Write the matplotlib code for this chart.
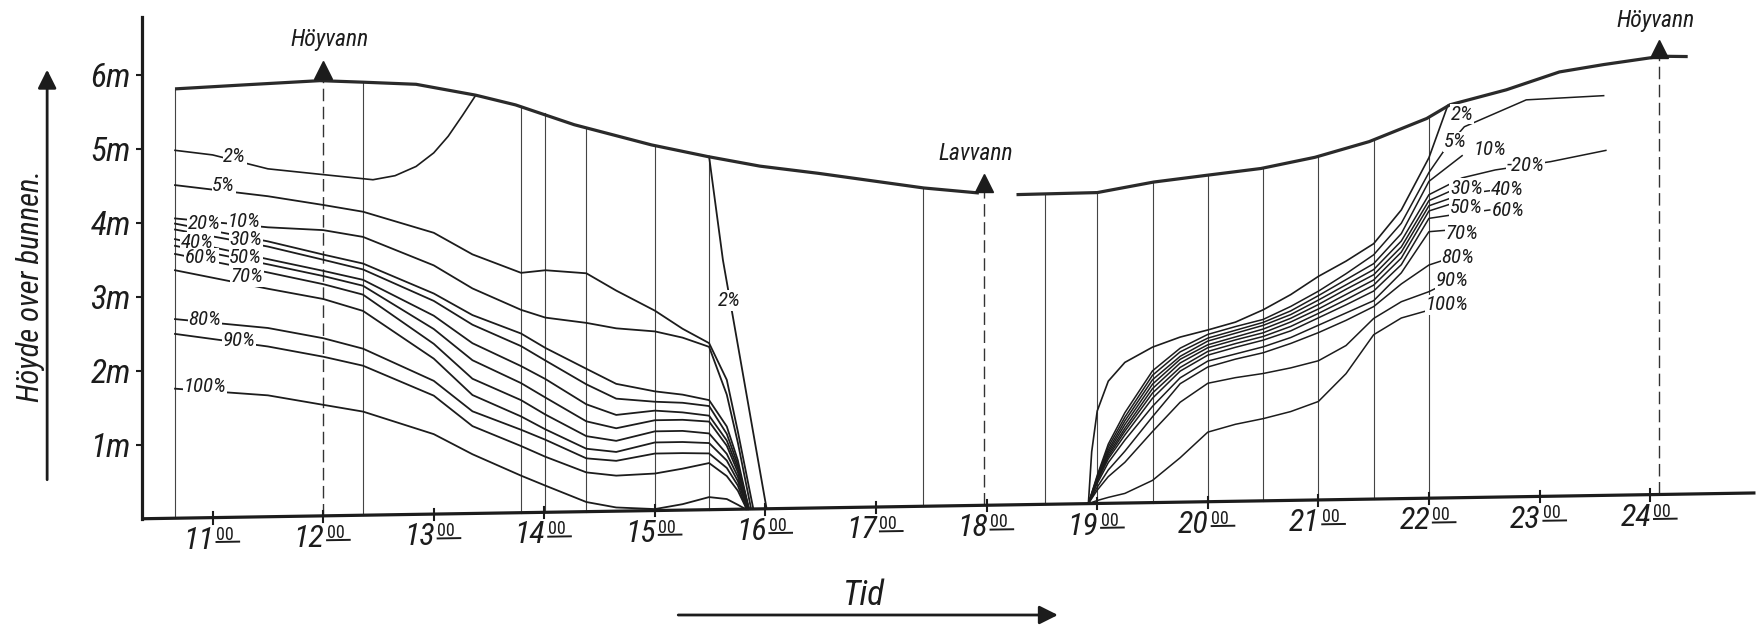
import matplotlib
matplotlib.use('Agg')
import matplotlib.pyplot as plt
import matplotlib.font_manager as fm
from matplotlib.transforms import Affine2D

# water surface (time in hours, height above bottom in m)
surf_left_t = [10.66, 11.3, 11.97, 12.36, 12.84, 13.38, 13.74, 14.27, 14.97, 15.48, 15.95, 16.48, 17.43, 17.93]
surf_left_m = [5.80, 5.84, 5.88, 5.85, 5.81, 5.65, 5.51, 5.23, 4.94, 4.77, 4.63, 4.52, 4.30, 4.22]
surf_right_t = [18.27, 19.0, 19.51, 19.99, 20.48, 20.97, 21.46, 21.98, 22.19, 22.70, 23.18, 23.58, 24.10, 24.34]
surf_right_m = [4.19, 4.20, 4.33, 4.41, 4.49, 4.63, 4.83, 5.13, 5.31, 5.50, 5.73, 5.82, 5.92, 5.91]

# sampling stations (thin verticals) and their top at the surface
station_t = [10.66, 12.36, 13.79, 14.01, 14.38, 15.0, 15.49, 17.42,
             18.53, 19.0, 19.5, 20.0, 20.5, 21.0, 21.5, 22.0]
station_top = [5.80, 5.85, 5.49, 5.39, 5.17, 4.93, 4.77, 4.30,
               4.19, 4.20, 4.33, 4.41, 4.50, 4.64, 4.85, 5.14]

# high / low water marks
tide_t = [12.0, 17.98, 24.08]
tide_m = [6.02, 4.36, 6.02]
tide_txt = ['Höyvann', 'Lavvann', 'Höyvann']
tide_txt_t = [12.06, 17.9, 24.05]
tide_txt_m = [6.43, 4.75, 6.41]

# 2 % line, ebb side (rises to the surface) and the steep drop later
p2_left_t = [10.66, 11.0, 11.5, 12.0, 12.45, 12.65, 12.84, 13.0, 13.13, 13.26, 13.38]
p2_left_m = [4.97, 4.90, 4.70, 4.61, 4.53, 4.58, 4.70, 4.88, 5.10, 5.38, 5.65]
p2_drop_t = [15.49, 15.615, 16.01]
p2_drop_m = [4.77, 3.37, 0.0]

# falling curves 5 % ... 100 %
fall_pct = ['5%', '10%', '20%', '30%', '40%', '50%', '60%', '70%', '80%', '90%', '100%']
fall_t = [10.66, 11.5, 12.0, 12.36, 13.0, 13.35, 13.79, 14.01, 14.38, 14.65, 15.0, 15.25, 15.49, 15.65, 15.75]
fall_end = [15.89, 15.87, 15.85, 15.85, 15.85, 15.85, 15.84, 15.84, 15.83, 15.83, 15.82]
fall_m = [
    [4.50, 4.33, 4.20, 4.10, 3.80, 3.50, 3.24, 3.27, 3.22, 2.98, 2.70, 2.45, 2.25, 1.75, 1.05],
    [4.05, 3.91, 3.86, 3.76, 3.36, 3.04, 2.74, 2.63, 2.55, 2.47, 2.42, 2.33, 2.20, 1.55, 0.90],
    [3.98, 3.72, 3.53, 3.40, 2.98, 2.68, 2.42, 2.22, 1.93, 1.72, 1.61, 1.56, 1.48, 1.12, 0.66],
    [3.90, 3.65, 3.46, 3.32, 2.88, 2.55, 2.25, 2.05, 1.72, 1.52, 1.47, 1.45, 1.40, 1.02, 0.60],
    [3.77, 3.48, 3.31, 3.18, 2.68, 2.30, 1.98, 1.80, 1.45, 1.30, 1.35, 1.32, 1.27, 0.93, 0.55],
    [3.68, 3.41, 3.24, 3.10, 2.50, 2.07, 1.75, 1.55, 1.22, 1.12, 1.22, 1.22, 1.19, 0.86, 0.50],
    [3.57, 3.30, 3.13, 2.98, 2.30, 1.82, 1.52, 1.32, 1.02, 0.95, 1.07, 1.07, 1.03, 0.75, 0.44],
    [3.35, 3.08, 2.93, 2.76, 2.10, 1.60, 1.30, 1.12, 0.85, 0.80, 0.92, 0.92, 0.90, 0.66, 0.38],
    [2.69, 2.55, 2.40, 2.25, 1.80, 1.38, 1.12, 0.98, 0.72, 0.68, 0.77, 0.77, 0.76, 0.56, 0.32],
    [2.49, 2.30, 2.15, 2.02, 1.60, 1.18, 0.90, 0.75, 0.53, 0.48, 0.50, 0.56, 0.63, 0.45, 0.25],
    [1.75, 1.64, 1.50, 1.40, 1.08, 0.80, 0.50, 0.36, 0.13, 0.05, 0.02, 0.08, 0.17, 0.14, 0.06],
]

# rising curves (flood) 2 % ... 100 %
p2_right_t = [18.92, 18.95, 19.0, 19.1, 19.25, 19.5, 19.75, 20.0, 20.25, 20.5, 20.75, 21.0, 21.25, 21.5, 21.75, 22.0, 22.17]
p2_right_m = [0.0, 0.70, 1.25, 1.65, 1.90, 2.10, 2.23, 2.32, 2.42, 2.58, 2.78, 3.02, 3.22, 3.45, 3.90, 4.60, 5.30]
rise_t = [18.92, 19.0, 19.1, 19.25, 19.5, 19.75, 20.0, 20.25, 20.5, 20.75, 21.0, 21.25, 21.5, 21.75, 22.0]
rise_m = [
    [0, 0.38, 0.80, 1.22, 1.78, 2.08, 2.26, 2.36, 2.45, 2.62, 2.82, 3.05, 3.30, 3.72, 4.40],
    [0, 0.36, 0.76, 1.16, 1.72, 2.03, 2.21, 2.31, 2.41, 2.56, 2.76, 2.97, 3.18, 3.58, 4.28],
    [0, 0.34, 0.72, 1.11, 1.66, 1.97, 2.17, 2.27, 2.37, 2.51, 2.70, 2.90, 3.10, 3.48, 4.10],
    [0, 0.33, 0.69, 1.06, 1.60, 1.93, 2.12, 2.22, 2.32, 2.46, 2.64, 2.84, 3.03, 3.40, 4.02],
    [0, 0.32, 0.66, 1.01, 1.54, 1.88, 2.08, 2.18, 2.27, 2.41, 2.58, 2.77, 2.96, 3.33, 3.95],
    [0, 0.31, 0.63, 0.97, 1.48, 1.82, 2.03, 2.13, 2.22, 2.35, 2.52, 2.70, 2.89, 3.25, 3.88],
    [0, 0.30, 0.60, 0.92, 1.41, 1.77, 1.98, 2.08, 2.17, 2.29, 2.46, 2.63, 2.81, 3.16, 3.78],
    [0, 0.27, 0.55, 0.85, 1.30, 1.68, 1.90, 1.99, 2.08, 2.20, 2.36, 2.52, 2.68, 3.05, 3.60],
    [0, 0.22, 0.45, 0.70, 1.16, 1.60, 1.82, 1.92, 2.00, 2.12, 2.26, 2.42, 2.60, 2.90, 3.15],
    [0, 0.18, 0.36, 0.55, 0.96, 1.35, 1.60, 1.67, 1.72, 1.79, 1.88, 2.08, 2.44, 2.66, 2.79],
    [0, 0.04, 0.08, 0.13, 0.30, 0.60, 0.94, 1.04, 1.11, 1.20, 1.33, 1.70, 2.22, 2.44, 2.54],
]
rise_tail_t = [[22.15, 22.32, 22.88, 23.58], [22.3], [22.3, 22.6, 23.1, 23.6], [22.22], [22.3, 22.55],
               [22.22], [22.3, 22.55], [22.2], [22.15], [22.1], [22.1]]
rise_tail_m = [[4.72, 5.01, 5.36, 5.40], [4.62], [4.32, 4.42, 4.52, 4.66], [4.16], [4.10, 4.14],
               [3.98], [3.84, 3.88], [3.62], [3.22], [2.86], [2.58]]

# curve labels
left_lab = ['2%', '5%', '20%', '10%', '40%', '30%', '60%', '50%', '70%', '80%', '90%', '100%']
left_lab_t = [11.2, 11.1, 10.92, 11.28, 10.86, 11.30, 10.90, 11.30, 11.31, 10.93, 11.24, 10.93]
left_lab_m = [4.87, 4.48, 3.97, 3.99, 3.72, 3.75, 3.51, 3.51, 3.25, 2.68, 2.39, 1.77]
right_lab = ['2%', '5%', '10%', '-20%', '30%', '40%', '50%', '60%', '70%', '80%', '90%', '100%']
right_lab_t = [22.30, 22.24, 22.55, 22.87, 22.34, 22.71, 22.34, 22.72, 22.30, 22.26, 22.21, 22.16]
right_lab_m = [5.18, 4.81, 4.70, 4.48, 4.18, 4.15, 3.92, 3.87, 3.57, 3.24, 2.93, 2.61]

hours = list(range(11, 25))
meters = [1, 2, 3, 4, 5, 6]

# narrow lettering if a condensed face is installed, else plain DejaVu
font = dict(family='DejaVu Sans')
for f in fm.fontManager.ttflist:
    if f.name in ('Liberation Sans Narrow', 'Roboto Condensed', 'Open Sans Condensed'):
        font = dict(family=f.name)
        break
    if f.name == 'DejaVu Sans' and f.stretch not in ('normal', 500, 'medium'):
        font = dict(family='DejaVu Sans', stretch=f.stretch)

ink = '#1c1c1c'
fig = plt.figure(figsize=(17.59, 6.25), dpi=100)
ax = fig.add_axes([0.0807, 0.170, 0.9173, 0.803])
x0, x1, ytop = 10.361, 24.953, 6.78
ax.set_xlim(x0, x1)
ax.set_ylim(0, ytop)

# the original drawing sits slightly skewed: the time axis rises to the right
tilt = 0.0514
T = ax.transScale + ax.transLimits + Affine2D.from_values(1, tilt, 0, 1, 0, 0) + ax.transAxes

for s in ['top', 'right', 'bottom']:
    ax.spines[s].set_visible(False)
ax.spines['left'].set_linewidth(2.3)
ax.spines['left'].set_color(ink)
ax.plot([x0, x1], [0, 0], color=ink, lw=2.3, transform=T, clip_on=False, solid_capstyle='butt')

# stations
for t, top in zip(station_t, station_top):
    ax.plot([t, t], [0, top], color='#444444', lw=0.8, zorder=1, transform=T)
for t, top in zip(tide_t, tide_m):
    ax.plot([t, t], [0, top], color='#333333', lw=1.0, ls=(0, (9, 4)), zorder=1, transform=T)

# curves
ax.plot(p2_left_t, p2_left_m, color=ink, lw=1.2, zorder=2, transform=T)
ax.plot(p2_drop_t, p2_drop_m, color=ink, lw=1.3, zorder=2, transform=T)
for row, end in zip(fall_m, fall_end):
    ax.plot(fall_t + [end], row + [0], color=ink, lw=1.3, zorder=2, transform=T)
ax.plot(p2_right_t, p2_right_m, color=ink, lw=1.2, zorder=2, transform=T)
for row, tt, tm in zip(rise_m, rise_tail_t, rise_tail_m):
    ax.plot(rise_t + tt, row + tm, color=ink, lw=1.1, zorder=2, transform=T)

# surface
ax.plot(surf_left_t, surf_left_m, color='#2a2a2a', lw=2.3, zorder=3, solid_capstyle='butt', transform=T)
ax.plot(surf_right_t, surf_right_m, color='#2a2a2a', lw=2.3, zorder=3, solid_capstyle='butt', transform=T)

# high / low water marks
ax.plot(tide_t, tide_m, ls='none', marker='^', markersize=13, color=ink, zorder=5, transform=T)
for txt, t, m in zip(tide_txt, tide_txt_t, tide_txt_m):
    ax.text(t, m, txt, ha='center', va='center', fontsize=17, style='italic', color=ink,
            transform=T, **font)

box = dict(facecolor='white', edgecolor='none', pad=0.5)
for txt, t, m in zip(left_lab + right_lab, left_lab_t + right_lab_t, left_lab_m + right_lab_m):
    ax.text(t, m, txt, ha='center', va='center', fontsize=15, style='italic',
            color=ink, bbox=box, zorder=4, transform=T, **font)
ax.text(15.67, 2.82, '2%', ha='center', va='center', fontsize=15, style='italic',
        color=ink, bbox=box, zorder=4, transform=T, **font)

# y ticks on the upright axis
ax.set_yticks(meters)
ax.set_yticklabels([f'{v}m' for v in meters], fontsize=24, style='italic', color=ink, **font)
ax.tick_params(axis='y', length=4, width=1.5, pad=4, color=ink)
ax.set_xticks([])

# hour ticks and labels along the skewed time axis
for hr in hours:
    ax.plot([hr, hr], [-0.08, 0.07], color=ink, lw=1.5, transform=T, clip_on=False)
    ax.text(hr + 0.01, -0.11, str(hr), ha='right', va='top',
            fontsize=23, style='italic', color=ink, transform=T, **font)
    ax.text(hr + 0.03, -0.11, '00', ha='left', va='top', fontsize=13, color=ink,
            transform=T, **font)
    ax.plot([hr + 0.035, hr + 0.24], [-0.33, -0.33], color=ink, lw=1.4, clip_on=False, transform=T)

# axis titles with arrows
fig.text(0.491, 0.047, 'Tid', ha='center', va='center', fontsize=25, style='italic', color=ink, **font)
ax.annotate('', xy=(0.603, 0.016), xytext=(0.384, 0.016), xycoords='figure fraction',
            textcoords='figure fraction',
            arrowprops=dict(arrowstyle='-|>', lw=2, color=ink, mutation_scale=28))
fig.text(0.0172, 0.542, 'Höyde over bunnen.', rotation=90, ha='center', va='center',
         fontsize=22, style='italic', color=ink, **font)
ax.annotate('', xy=(0.0268, 0.893), xytext=(0.0268, 0.228), xycoords='figure fraction',
            textcoords='figure fraction',
            arrowprops=dict(arrowstyle='-|>', lw=2, color=ink, mutation_scale=28))

plt.savefig('out.png', dpi=100)
